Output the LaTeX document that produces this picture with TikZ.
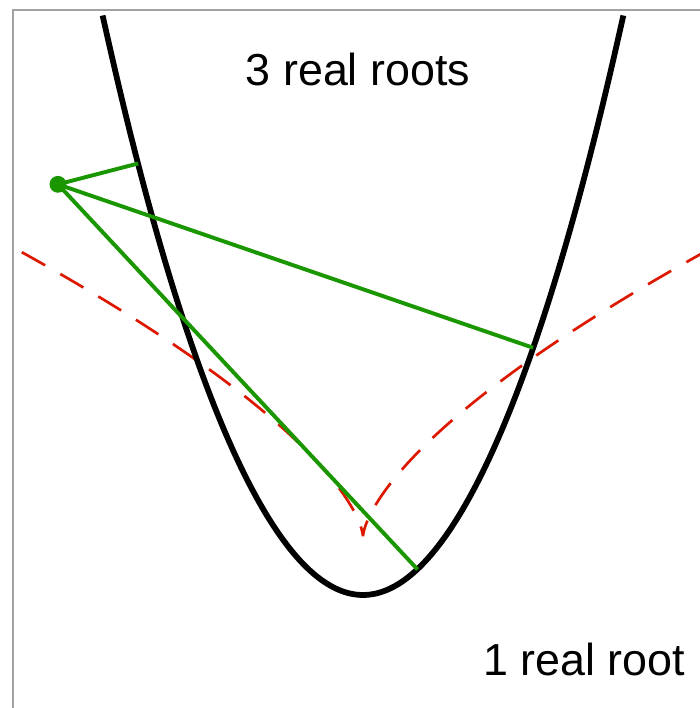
\documentclass[tikz,border=0pt]{standalone}
\usepackage{fontspec}
\setmainfont{Liberation Sans}
\begin{document}
\begin{tikzpicture}[
		c/.style = {line width=2.8pt, black},
		e/.style = {line width=1.3pt, color=evred, dash pattern=on 13pt off 8.5pt},
		n/.style = {line width=1.9pt, color=nrmgreen},
		p/.style = {circle, fill=nrmgreen, inner sep=0pt, minimum size=8.2pt},
		t/.style = {anchor=base, font=\fontsize{21.8}{26}\selectfont},
		f/.style = {line width=1.4pt, color=black!37}
		]
		\definecolor{evred}{RGB}{220,25,0}
		\definecolor{nrmgreen}{RGB}{25,150,0}
		\useasboundingbox (-6.205,-1.932) rectangle (5.761,10.171);
		
		%Frame
		\draw[f] (-5.983,-1.932) |- (5.761,10.0);
		
		%Nodes
		\node[t]	(many)	at (-0.085, 8.706)	{3 real roots};
		\node[t]	(one)	at (3.778, -1.368)	{1 real root};
		\coordinate	(f1)	at (0.9337, 0.4359);
		\coordinate	(f2)	at (2.9074, 4.2265);
		\coordinate	(f3)	at (-3.8411, 7.377);
		
		%Curves
		\draw[e] plot[domain=1.8:-1.8, samples=181, smooth] ({-(\x)^3}, {1+1.5*(\x)^2});
		\draw[c] (-4.451,9.906) parabola bend (0,0) (4.451,9.906);
		
		%Lines
		\node[p]	(P)		at (-5.214, 7.02)	{};
		\draw[n] (P.center) -- (f1);
		\draw[n] (P.center) -- (f2);
		\draw[n] (P.center) -- (f3);
		
	\end{tikzpicture}
\end{document}
